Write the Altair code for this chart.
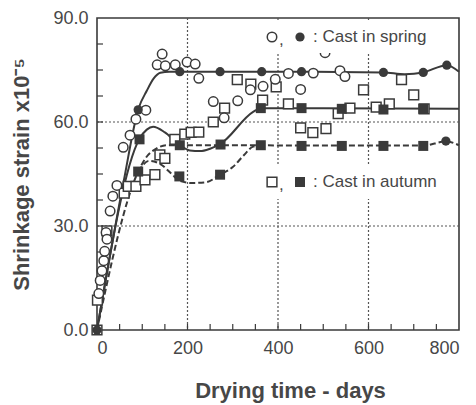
import altair as alt
import pandas as pd

# ---- data ----
# open circles (spring, individual)
oc_day = [4, 7, 11, 15, 17, 20, 22, 29, 35, 44, 58, 73, 86, 108, 133, 144, 151, 173, 199, 217, 225,
          257, 281, 311, 339, 367, 394, 423, 450, 478, 504, 537, 548]
oc_val = [10.5, 14.3, 17.1, 20.0, 22.7, 28.1, 26.2, 34.3, 38.6, 41.7, 52.7, 56.2, 60.8, 63.4, 76.5, 79.6,
          76.2, 76.5, 77.3, 76.7, 72.6, 65.9, 61.2, 66.1, 69.3, 70.3, 72.3, 74.0, 69.4, 74.1, 80.0, 74.8, 73.1]

# open squares (autumn, individual)
os_day = [0, 1, 22, 60, 69, 86, 106, 128, 139, 150, 172, 194, 208, 225, 257, 282, 310, 340, 366, 396,
          423, 450, 477, 506, 533, 559, 589, 617, 646, 673, 700, 723]
os_val = [0.0, 8.6, 28.6, 39.5, 41.4, 41.4, 43.3, 44.8, 50.5, 49.5, 55.0, 56.5, 57.0, 57.1, 60.0, 64.0,
          72.2, 70.9, 66.3, 70.1, 65.2, 58.3, 56.9, 58.1, 62.4, 64.0, 69.3, 64.3, 65.2, 72.2, 67.8, 63.8]

# filled circles (spring, mean)
fc_day = [0, 91, 183, 272, 364, 452, 633, 721, 773, 771]
fc_val = [0.0, 63.5, 74.5, 74.5, 74.5, 74.5, 74.3, 74.3, 76.4, 54.5]

# filled squares (autumn, mean)
fs_day = [94, 183, 273, 362, 452, 541, 633, 721, 362, 452, 541, 633, 721, 91, 182, 272]
fs_val = [55.0, 53.3, 53.5, 64.0, 64.0, 63.8, 63.6, 63.8, 53.3, 53.1, 53.1, 53.1, 53.1, 45.7, 44.3, 44.8]

# fitted curves
spring_day = [0, 59, 92, 110, 125, 140, 160, 300, 450, 633, 680, 721, 773, 800]
spring_val = [0, 42.9, 64.0, 69.0, 72.5, 74.2, 74.5, 74.5, 74.5, 74.3, 73.8, 74.3, 76.4, 74.5]

autA_day = [0, 94, 110, 124, 150, 183, 205, 228, 250, 272, 345, 362, 500, 800]
autA_val = [0, 55.2, 57.8, 58.6, 57.0, 53.3, 51.8, 51.6, 52.3, 53.6, 62.9, 64.0, 64.0, 63.8]

autB_day = [0, 91, 107, 132, 154, 300, 500, 721, 771, 800]
autB_val = [0, 45.7, 49.5, 52.4, 53.3, 53.3, 53.2, 53.2, 54.4, 53.3]

autC_day = [91, 115, 143, 165, 183, 210, 240, 272, 300, 325, 345, 365]
autC_val = [45.7, 48.8, 47.6, 45.0, 43.0, 42.4, 42.6, 44.8, 47.0, 50.5, 52.9, 53.3]

x_grid = [200, 400, 600]
y_grid = [30, 60]
x_minor = [50, 100, 150, 200, 250, 300, 350, 400, 450, 500, 550, 600, 650, 700, 750]
y_minor = [7.5, 15, 22.5, 30, 37.5, 45, 52.5, 60, 67.5, 75, 82.5]
x_labels = [0, 200, 400, 600, 800]
y_labels = [0, 30, 60, 90]

legend_text = [": Cast in spring", ": Cast in autumn"]

W, H = 362, 312
INK = "#3a3a3a"
TXT = "#474747"
FONT = "Liberation Sans"

xs = alt.Scale(domain=[0, 800], nice=False)
ys = alt.Scale(domain=[0, 90], nice=False)

def df(d, v):
    return pd.DataFrame({"d": d, "v": v})

X = alt.X("d:Q", scale=xs, axis=alt.Axis(values=x_labels, title="Drying time - days", grid=False,
          ticks=False, domain=False, labelFontSize=18, labelColor=TXT, labelFont=FONT, labelPadding=9,
          titleFont=FONT, titleFontSize=22, titleFontWeight="bold", titleColor=TXT,
          titleX=193, titleY=60, titleBaseline="middle", titleAlign="center"))
Y = alt.Y("v:Q", scale=ys, axis=alt.Axis(values=y_labels, format=".1f", title="Shrinkage strain x10⁻⁵",
          grid=False, ticks=False, domain=False, labelFontSize=18, labelColor=TXT, labelFont=FONT,
          labelPadding=9, titleFont=FONT, titleFontSize=22, titleFontWeight="bold", titleColor=TXT,
          titleX=-76, titleY=156, titleBaseline="middle", titleAlign="center", titleAngle=270))

gx = alt.Chart(pd.DataFrame({"d": x_grid})).mark_rule(color="#555", strokeDash=[2, 2], strokeWidth=1.2).encode(
    x=alt.X("d:Q", scale=xs))
gy = alt.Chart(pd.DataFrame({"v": y_grid})).mark_rule(color="#555", strokeDash=[2, 2], strokeWidth=1.2).encode(
    y=alt.Y("v:Q", scale=ys))
tx = alt.Chart(pd.DataFrame({"d": x_minor})).mark_rule(color=INK, strokeWidth=1.2).encode(
    x=alt.X("d:Q", scale=xs), y=alt.value(H), y2=alt.value(H - 6))
ty = alt.Chart(pd.DataFrame({"v": y_minor})).mark_rule(color=INK, strokeWidth=1.2).encode(
    y=alt.Y("v:Q", scale=ys), x=alt.value(0), x2=alt.value(6))

def curve(d, v, dash=None):
    kw = dict(color=INK, strokeWidth=2, interpolate="monotone")
    if dash:
        kw["strokeDash"] = dash
    return alt.Chart(df(d, v)).mark_line(**kw).encode(x=alt.X("d:Q", scale=xs), y=alt.Y("v:Q", scale=ys))

l_spring = curve(spring_day, spring_val)
l_a = curve(autA_day, autA_val)
l_b = curve(autB_day, autB_val, [6, 3])
l_c = curve(autC_day, autC_val, [6, 3])

p_oc = alt.Chart(df(oc_day, oc_val)).mark_circle(fill="white", stroke=INK, strokeWidth=1.5, size=90, opacity=1).encode(
    x=alt.X("d:Q", scale=xs), y=alt.Y("v:Q", scale=ys))
p_os = alt.Chart(df(os_day, os_val)).mark_square(fill="white", stroke=INK, strokeWidth=1.5, size=95, opacity=1).encode(
    x=alt.X("d:Q", scale=xs), y=alt.Y("v:Q", scale=ys))
p_fc = alt.Chart(df(fc_day, fc_val)).mark_circle(color=INK, size=85, opacity=1).encode(
    x=alt.X("d:Q", scale=xs), y=alt.Y("v:Q", scale=ys))
p_fs = alt.Chart(df(fs_day, fs_val)).mark_square(color=INK, size=100, opacity=1).encode(
    x=alt.X("d:Q", scale=xs), y=alt.Y("v:Q", scale=ys))

axes = alt.Chart(df(x_labels, y_labels[:1] * 5)).mark_point(opacity=0).encode(x=X, y=Y)

# legend (annotation in pixel space)
rows = pd.DataFrame({"t": legend_text})
LY1, LY2 = 19, 164
bg1 = alt.Chart(rows.iloc[[0]]).mark_rect(color="white").encode(
    x=alt.value(167), x2=alt.value(346), y=alt.value(2), y2=alt.value(35))
bg2 = alt.Chart(rows.iloc[[1]]).mark_rect(color="white").encode(
    x=alt.value(167), x2=alt.value(346), y=alt.value(147), y2=alt.value(181))
txt1 = alt.Chart(rows.iloc[[0]]).mark_text(align="left", baseline="middle", font=FONT, fontSize=17, color=TXT).encode(
    text="t:N", x=alt.value(216), y=alt.value(LY1))
txt2 = alt.Chart(rows.iloc[[1]]).mark_text(align="left", baseline="middle", font=FONT, fontSize=17, color=TXT).encode(
    text="t:N", x=alt.value(216), y=alt.value(LY2))
com1 = alt.Chart(rows.iloc[[0]]).mark_text(text=",", align="left", baseline="middle", font=FONT, fontSize=17, color=TXT).encode(
    x=alt.value(182), y=alt.value(LY1 + 3))
com2 = alt.Chart(rows.iloc[[1]]).mark_text(text=",", align="left", baseline="middle", font=FONT, fontSize=17, color=TXT).encode(
    x=alt.value(182), y=alt.value(LY2 + 3))
s1 = alt.Chart(rows.iloc[[0]]).mark_circle(fill="white", stroke=INK, strokeWidth=1.5, size=90, opacity=1).encode(
    x=alt.value(175), y=alt.value(LY1))
s2 = alt.Chart(rows.iloc[[0]]).mark_circle(color=INK, size=85, opacity=1).encode(x=alt.value(203), y=alt.value(LY1))
s3 = alt.Chart(rows.iloc[[1]]).mark_square(fill="white", stroke=INK, strokeWidth=1.5, size=95, opacity=1).encode(
    x=alt.value(175), y=alt.value(LY2))
s4 = alt.Chart(rows.iloc[[1]]).mark_square(color=INK, size=100, opacity=1).encode(x=alt.value(203), y=alt.value(LY2))

chart = alt.layer(
    axes, gx, gy, tx, ty, l_spring, l_a, l_b, l_c, p_os, p_oc, p_fs, p_fc,
    bg1, bg2, txt1, txt2, com1, com2, s1, s2, s3, s4
).properties(
    width=W, height=H, autosize="none",
    padding={"left": 89, "top": 10, "right": 9, "bottom": 74},
    background="white"
).configure_view(stroke=INK, strokeWidth=1.6)

chart.save("out.html", embed_options={"renderer": "svg", "actions": False})
